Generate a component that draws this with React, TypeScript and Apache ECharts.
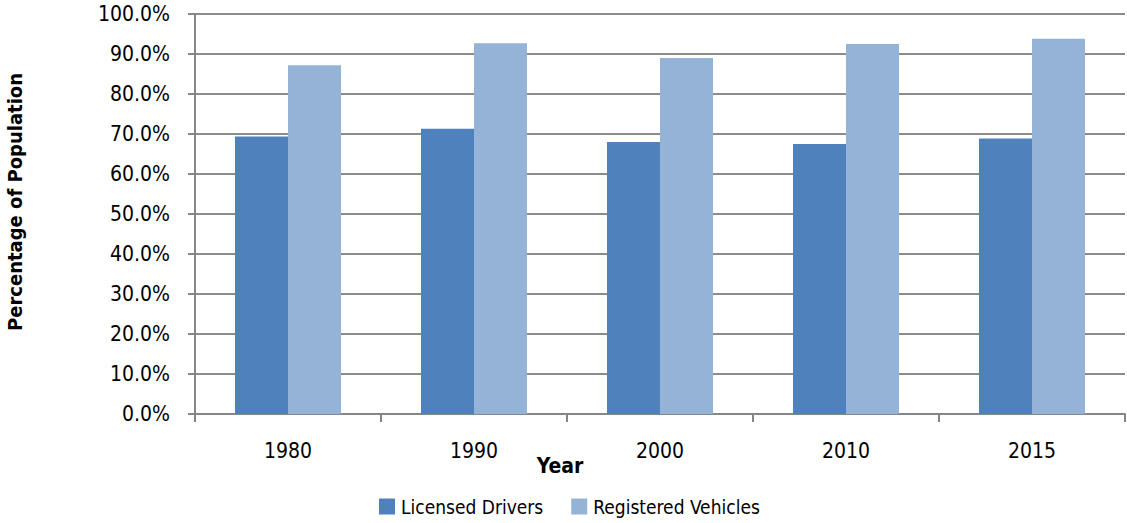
import React, { useEffect, useRef } from "react";
import * as echarts from "echarts";

const years = ["1980", "1990", "2000", "2010", "2015"];
const licensedDrivers = [69.4, 71.3, 68.0, 67.5, 68.9];
const registeredVehicles = [87.2, 92.7, 89.0, 92.5, 93.8];
const seriesNames = ["Licensed Drivers", "Registered Vehicles"];
const seriesColors = ["#4f81bd", "#95b3d7"];

const FONT = '"Liberation Sans Narrow", "DejaVu Sans Condensed", "Roboto", sans-serif';

export default function App() {
  const ref = useRef<HTMLDivElement>(null);
  useEffect(() => {
    document.body.style.margin = "0";
    const chart = echarts.init(ref.current!, null, { renderer: "svg" });
    chart.setOption({
      animation: false,
      textStyle: { fontFamily: FONT },
      grid: { left: 195, right: 2, top: 14, bottom: 109, containLabel: false },
      legend: {
        data: seriesNames,
        top: 497,
        left: 379,
        padding: 0,
        itemWidth: 16,
        itemHeight: 16,
        itemGap: 28,
        icon: "rect",
        textStyle: { fontFamily: FONT, fontSize: 19, color: "#000", padding: [0, 0, 0, 1] },
      },
      xAxis: {
        type: "category",
        data: years,
        axisLine: { lineStyle: { color: "#868686", width: 2 } },
        axisTick: { show: true, length: 8, lineStyle: { color: "#868686", width: 2 } },
        axisLabel: { color: "#000", fontSize: 21, fontFamily: FONT, margin: 26 },
        splitLine: { show: false },
      },
      yAxis: {
        type: "value",
        min: 0,
        max: 100,
        interval: 10,
        axisLine: { show: true, lineStyle: { color: "#868686", width: 2 } },
        axisTick: { show: true, length: 7, lineStyle: { color: "#868686", width: 2 } },
        axisLabel: {
          color: "#000",
          fontSize: 21,
          fontFamily: FONT,
          margin: 25,
          formatter: (v: number) => v.toFixed(1) + "%",
        },
        splitLine: { show: true, lineStyle: { color: "#8c8c8c", width: 2 } },
      },
      graphic: [
        {
          type: "text",
          x: 15,
          y: 202,
          rotation: Math.PI / 2,
          style: {
            text: "Percentage of Population",
            fontFamily: FONT,
            fontWeight: "bold",
            fontSize: 20,
            fill: "#000",
            align: "center",
            verticalAlign: "middle",
          },
        },
        {
          type: "text",
          x: 560,
          y: 466,
          style: {
            text: "Year",
            fontFamily: FONT,
            fontWeight: "bold",
            fontSize: 21,
            fill: "#000",
            align: "center",
            verticalAlign: "middle",
          },
        },
      ],
      series: [
        {
          name: seriesNames[0],
          type: "bar",
          data: licensedDrivers,
          barGap: "0%",
          barCategoryGap: "43%",
          itemStyle: { color: seriesColors[0] },
        },
        {
          name: seriesNames[1],
          type: "bar",
          data: registeredVehicles,
          barGap: "0%",
          barCategoryGap: "43%",
          itemStyle: { color: seriesColors[1] },
        },
      ],
    });
    return () => chart.dispose();
  }, []);
  return <div ref={ref} style={{ width: 1127, height: 523 }} />;
}
